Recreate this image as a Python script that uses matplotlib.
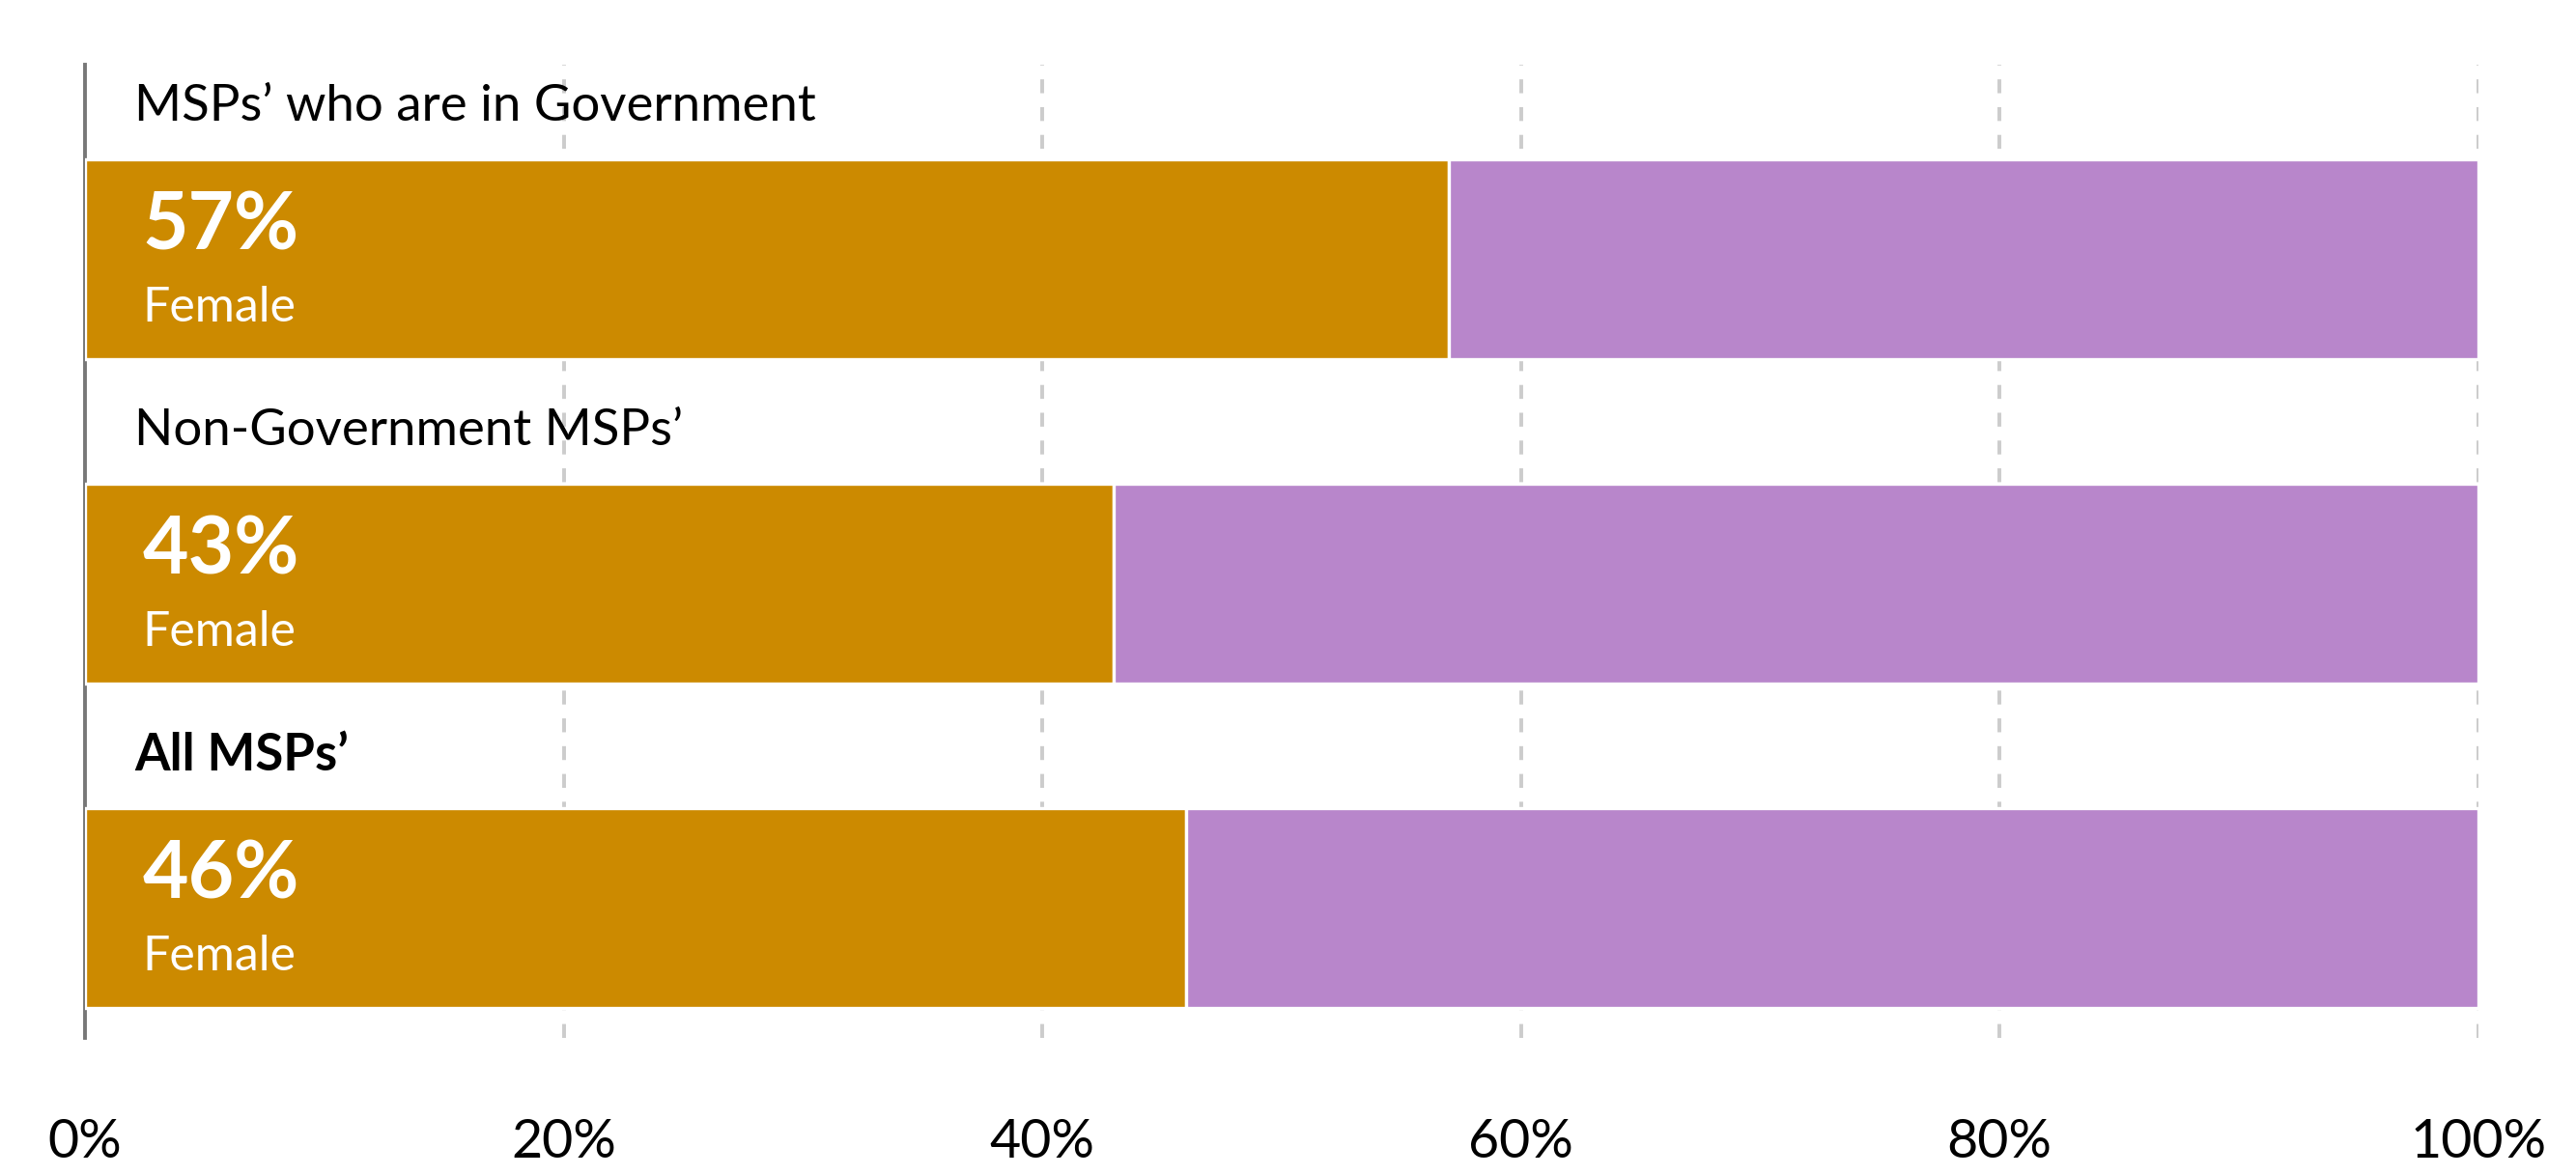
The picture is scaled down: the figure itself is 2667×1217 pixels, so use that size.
import numpy as np
import matplotlib.pyplot as plt

categories = ["MSPs\u2019 who are in Government", "Non-Government MSPs\u2019", "All MSPs\u2019"]
female_pct = [57, 43, 46]
male_pct = [43, 57, 54]
bold_label = [False, False, True]
tick_values = [0, 20, 40, 60, 80, 100]
tick_labels = ["0%", "20%", "40%", "60%", "80%", "100%"]

FEMALE_COLOR = "#CC8A00"
MALE_COLOR = "#B886CB"

plt.rcParams['font.family'] = ['Lato', 'DejaVu Sans']

fig = plt.figure(figsize=(13.335, 6.085), dpi=200)
ax = fig.add_axes([0.033, 0.1167, 0.929, 0.828])

bar_h = 0.617
bar_off = 0.599
pos = np.arange(len(categories)) + bar_off

ax.barh(pos, female_pct, height=bar_h, color=FEMALE_COLOR,
        edgecolor="white", linewidth=1.2, zorder=3)
ax.barh(pos, male_pct, left=female_pct, height=bar_h, color=MALE_COLOR,
        edgecolor="white", linewidth=1.2, zorder=3)

for i, cat in enumerate(categories):
    ax.text(2.05, i + 0.13, cat, ha="left", va="center", fontsize=19,
            fontweight="bold" if bold_label[i] else "normal", color="black")
    ax.text(2.4, i + 0.50, f"{female_pct[i]}%", ha="left", va="center",
            fontsize=29.5, fontweight="bold", color="white", zorder=4)
    ax.text(2.4, i + 0.75, "Female", ha="left", va="center",
            fontsize=18, color="white", zorder=4)

ax.set_xlim(0, 100)
ax.set_ylim(len(categories), 0)
ax.set_xticks(tick_values)
ax.set_xticklabels(tick_labels, fontsize=20)
ax.set_yticks([])
ax.tick_params(axis="x", length=0, pad=30)

for v in tick_values[1:]:
    ax.axvline(v, color="#CCCCCC", linewidth=1.4, linestyle=(0, (3.7, 3.7)), zorder=1)

for s in ["top", "right", "bottom"]:
    ax.spines[s].set_visible(False)
ax.spines["left"].set_color("#777777")
ax.spines["left"].set_linewidth(1.4)
ax.spines["left"].set_zorder(2)

fig.savefig("out.png", dpi=200)
